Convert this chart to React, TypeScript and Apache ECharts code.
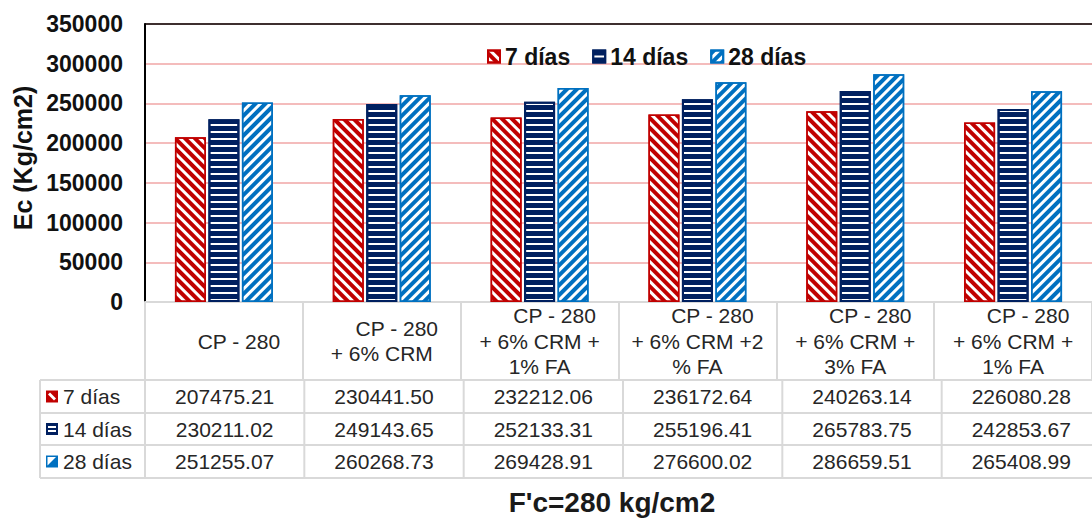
import React, { useEffect, useRef } from "react";
import * as echarts from "echarts";

const categories = [
  "CP - 280",
  "CP - 280\n+ 6% CRM",
  "CP - 280\n+ 6% CRM +\n1% FA",
  "CP - 280\n+ 6% CRM +2\n% FA",
  "CP - 280\n+ 6% CRM +\n3% FA",
  "CP - 280\n+ 6% CRM +\n1% FA",
];
const seriesNames = ["7 días", "14 días", "28 días"];
const days7 = [207475.21, 230441.5, 232212.06, 236172.64, 240263.14, 226080.28];
const days14 = [230211.02, 249143.65, 252133.31, 255196.41, 265783.75, 242853.67];
const days28 = [251255.07, 260268.73, 269428.91, 276600.02, 286659.51, 265408.99];
const yMin = 0;
const yMax = 350000;
const yInterval = 50000;
const yTitle = "Ec (Kg/cm2)";
const xTitle = "F'c=280 kg/cm2";

const FONT = "'Liberation Sans', Arial, sans-serif";
const RED = "#C00000";
const NAVY = "#002060";
const BLUE = "#0070C0";
const GRID_LINE = "#F0A6A6";
const TABLE_LINE = "#D9D9D9";
const TEXT = "#262626";

// layout
const GRID_LEFT = 145;
const GRID_TOP = 24;
const GRID_BOTTOM_Y = 302;
const GRID_WIDTH = 956;
const HEADER_BOTTOM = 380;
const ROW_LINES = [380, 413, 445, 478];
const TABLE_LEFT = 40;

export default function App() {
  const ref = useRef<HTMLDivElement>(null);
  useEffect(() => {
    if (!ref.current) return;
    const chart = echarts.init(ref.current, undefined, { renderer: "svg" });
    const colW = GRID_WIDTH / categories.length;
    const seriesData = [days7, days14, days28];
    const colors = [RED, NAVY, BLUE];

    const graphics: any[] = [];
    const tableRight = GRID_LEFT + GRID_WIDTH;
    ROW_LINES.forEach((y) => {
      graphics.push({
        type: "line",
        shape: { x1: TABLE_LEFT, y1: y, x2: tableRight, y2: y },
        style: { stroke: TABLE_LINE, lineWidth: 2 },
        silent: true,
      });
    });
    const rowTop = ROW_LINES[0];
    const rowBottom = ROW_LINES[ROW_LINES.length - 1];
    graphics.push({
      type: "line",
      shape: { x1: TABLE_LEFT, y1: rowTop, x2: TABLE_LEFT, y2: rowBottom },
      style: { stroke: TABLE_LINE, lineWidth: 2 },
      silent: true,
    });
    for (let i = 0; i <= categories.length; i++) {
      const x = GRID_LEFT + i * colW;
      graphics.push({
        type: "line",
        shape: { x1: x, y1: rowTop, x2: x, y2: rowBottom },
        style: { stroke: TABLE_LINE, lineWidth: 2 },
        silent: true,
      });
    }
    seriesNames.forEach((name, r) => {
      const cy = (ROW_LINES[r] + ROW_LINES[r + 1]) / 2;
      const kx = 46;
      const ky = cy - 6;
      const c = colors[r];
      graphics.push({
        type: "rect",
        shape: { x: kx, y: ky, width: 12, height: 12 },
        style: { fill: c },
        silent: true,
      });
      if (r === 0) {
        graphics.push({
          type: "polygon",
          shape: { points: [[kx + 2, ky + 4], [kx + 4, ky + 2], [kx + 10, ky + 8], [kx + 8, ky + 10]] },
          style: { fill: "#fff" },
          silent: true,
        });
      } else if (r === 1) {
        graphics.push({
          type: "rect",
          shape: { x: kx + 2, y: ky + 3, width: 8, height: 2 },
          style: { fill: "#fff" },
          silent: true,
        });
        graphics.push({
          type: "rect",
          shape: { x: kx + 2, y: ky + 7, width: 8, height: 2 },
          style: { fill: "#fff" },
          silent: true,
        });
      } else {
        graphics.push({
          type: "polygon",
          shape: { points: [[kx + 1.5, ky + 1.5], [kx + 10, ky + 1.5], [kx + 1.5, ky + 10]] },
          style: { fill: "#fff" },
          silent: true,
        });
      }
      graphics.push({
        type: "text",
        x: 63,
        y: cy,
        style: {
          text: name,
          fontSize: 21,
          fontFamily: FONT,
          fill: TEXT,
          align: "left",
          verticalAlign: "middle",
        },
        silent: true,
      });
      seriesData[r].forEach((v, i) => {
        graphics.push({
          type: "text",
          x: GRID_LEFT + (i + 0.5) * colW,
          y: cy,
          style: {
            text: v.toFixed(2),
            fontSize: 21,
            fontFamily: FONT,
            fill: TEXT,
            align: "center",
            verticalAlign: "middle",
          },
          silent: true,
        });
      });
    });
    graphics.push({
      type: "text",
      x: 612,
      y: 502,
      style: {
        text: xTitle,
        fontSize: 28,
        fontWeight: "bold",
        fontFamily: FONT,
        fill: "#1a1a1a",
        align: "center",
        verticalAlign: "middle",
      },
      silent: true,
    });

    const decals = [
      { symbol: "rect", symbolSize: 1, dashArrayX: [1, 0], dashArrayY: [4, 3], rotation: Math.PI / 4, color: RED },
      { symbol: "rect", symbolSize: 1, dashArrayX: [1, 0], dashArrayY: [5, 2], rotation: 0, color: NAVY },
      { symbol: "rect", symbolSize: 1, dashArrayX: [1, 0], dashArrayY: [4, 3], rotation: -Math.PI / 4, color: BLUE },
    ];

    const headerFormatter = (value: string) => {
      const lines = value.split("\n");
      return lines
        .map((l, i) => (i === 0 ? `{f|${l}}` : `{n|${l}}`))
        .join("\n");
    };

    chart.setOption({
      animation: false,
      grid: {
        left: GRID_LEFT,
        top: GRID_TOP,
        width: GRID_WIDTH,
        height: GRID_BOTTOM_Y - GRID_TOP,
        containLabel: false,
      },
      legend: {
        data: seriesNames,
        left: 482,
        top: 40,
        itemWidth: 12,
        itemHeight: 12,
        itemGap: 22,
        icon: "rect",
        textStyle: { fontSize: 23, fontWeight: "bold", fontFamily: FONT, color: "#111" },
      },
      xAxis: [
        {
          type: "category",
          data: categories,
          position: "bottom",
          axisLine: { show: true, lineStyle: { color: TABLE_LINE, width: 2 } },
          axisTick: {
            show: true,
            length: HEADER_BOTTOM - GRID_BOTTOM_Y,
            interval: 0,
            lineStyle: { color: TABLE_LINE, width: 2 },
          },
          axisLabel: {
            interval: 0,
            margin: (HEADER_BOTTOM - GRID_BOTTOM_Y) / 2,
            verticalAlign: "middle",
            formatter: headerFormatter,
            rich: {
              f: { fontSize: 21, fontFamily: FONT, color: TEXT, lineHeight: 25.5, padding: [0, 0, 0, 30] },
              n: { fontSize: 21, fontFamily: FONT, color: TEXT, lineHeight: 25.5 },
            },
          },
          splitLine: { show: false },
        },
        {
          type: "category",
          data: categories,
          position: "top",
          axisLine: { show: true, lineStyle: { color: "#000", width: 1.5 } },
          axisTick: { show: false },
          axisLabel: { show: false },
        },
      ],
      yAxis: {
        type: "value",
        min: yMin,
        max: yMax,
        interval: yInterval,
        name: yTitle,
        nameLocation: "middle",
        nameGap: 108,
        nameRotate: 90,
        nameTextStyle: { fontSize: 25, fontWeight: "bold", fontFamily: FONT, color: "#111", padding: [0, 0, 0, 10] },
        axisLine: { show: true, lineStyle: { color: "#000", width: 2 } },
        axisTick: { show: false },
        axisLabel: {
          fontSize: 23,
          fontWeight: "bold",
          fontFamily: FONT,
          color: "#111",
          margin: 22,
          formatter: (v: number) => String(v),
        },
        splitLine: { show: true, lineStyle: { color: GRID_LINE, width: 1.5 } },
      },
      series: seriesNames.map((name, i) => ({
        name,
        type: "bar",
        xAxisIndex: 0,
        data: seriesData[i],
        barWidth: 31,
        barGap: "8%",
        itemStyle: {
          color: "#fff",
          borderColor: colors[i],
          borderWidth: i === 1 ? 2 : 1.5,
          decal: decals[i],
        },
      })),
      graphic: graphics,
    });
    return () => chart.dispose();
  }, []);
  return (
    <div
      ref={ref}
      style={{ position: "absolute", left: 0, top: 0, width: 1092, height: 518, background: "#fff" }}
    />
  );
}
